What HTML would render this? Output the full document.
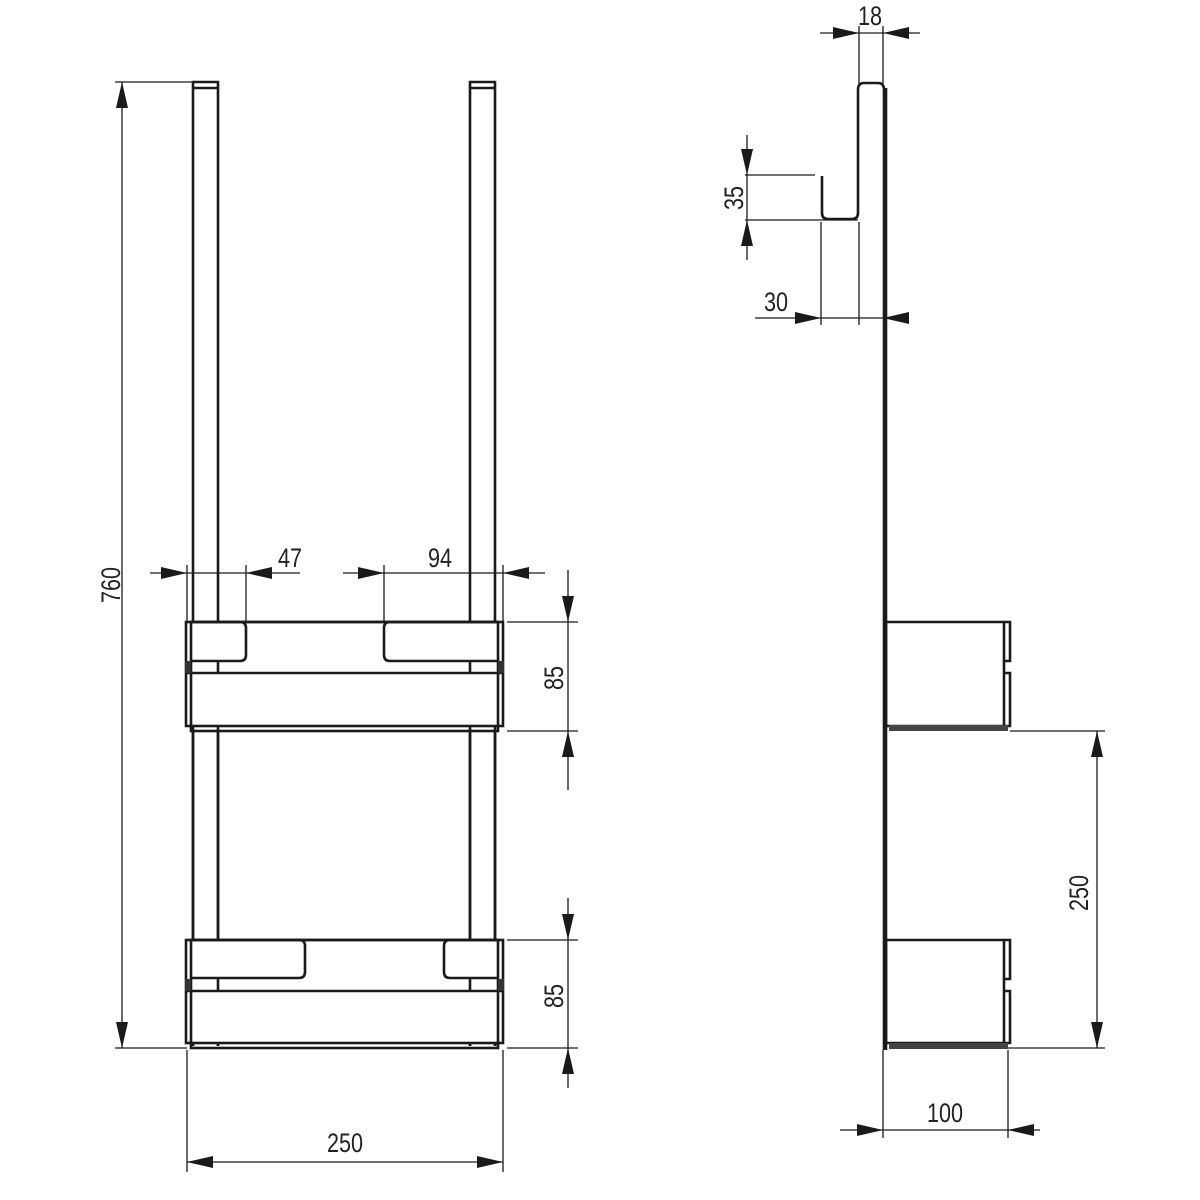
<!DOCTYPE html>
<html><head><meta charset="utf-8"><style>
html,body{margin:0;padding:0;background:#fff}
svg{display:block}
text{font-family:"Liberation Sans",sans-serif;font-size:27px;fill:#222}
</style></head><body>
<svg width="1200" height="1200" viewBox="0 0 1200 1200" xmlns="http://www.w3.org/2000/svg">
<defs>
<marker id="a" markerUnits="userSpaceOnUse" markerWidth="30" markerHeight="14" refX="26" refY="6" orient="auto">
<path d="M0,0 L26,6 L0,12 z" fill="#1a1a1a"/></marker>
</defs>
<g stroke="#1a1a1a" fill="none" stroke-width="1.3">
<!-- left view: dimension lines -->
<line x1="115" y1="82" x2="195" y2="82"/>
<line x1="115" y1="1048" x2="187" y2="1048"/>
<line x1="122" y1="565" x2="122" y2="82" marker-end="url(#a)"/>
<line x1="122" y1="565" x2="122" y2="1048" marker-end="url(#a)"/>
<!-- 47 -->
<line x1="187" y1="565" x2="187" y2="622"/><line x1="246" y1="565" x2="246" y2="622"/>
<line x1="150" y1="573" x2="187" y2="573" marker-end="url(#a)"/>
<line x1="300" y1="573" x2="246" y2="573" marker-end="url(#a)"/>
<line x1="187" y1="573" x2="246" y2="573"/>
<!-- 94 -->
<line x1="384" y1="565" x2="384" y2="622"/><line x1="503" y1="565" x2="503" y2="622"/>
<line x1="343" y1="573" x2="384" y2="573" marker-end="url(#a)"/>
<line x1="545" y1="573" x2="503" y2="573" marker-end="url(#a)"/>
<line x1="384" y1="573" x2="503" y2="573"/>
<!-- 85 upper -->
<line x1="507" y1="622" x2="578" y2="622"/><line x1="507" y1="731" x2="578" y2="731"/>
<line x1="568" y1="570" x2="568" y2="622" marker-end="url(#a)"/>
<line x1="568" y1="790" x2="568" y2="731" marker-end="url(#a)"/>
<line x1="568" y1="622" x2="568" y2="731"/>
<!-- 85 lower -->
<line x1="507" y1="940" x2="578" y2="940"/><line x1="507" y1="1048" x2="578" y2="1048"/>
<line x1="568" y1="898" x2="568" y2="940" marker-end="url(#a)"/>
<line x1="568" y1="1088" x2="568" y2="1048" marker-end="url(#a)"/>
<line x1="568" y1="940" x2="568" y2="1048"/>
<!-- 250 bottom -->
<line x1="187" y1="1050" x2="187" y2="1172"/><line x1="503" y1="1050" x2="503" y2="1172"/>
<line x1="345" y1="1162" x2="187" y2="1162" marker-end="url(#a)"/>
<line x1="345" y1="1162" x2="503" y2="1162" marker-end="url(#a)"/>
</g>
<g stroke="#1a1a1a" fill="none" stroke-width="2.6">
<!-- bars -->
<path d="M193,1046 V82 H218 V1046"/><line x1="193" y1="88" x2="218" y2="88"/>
<path d="M470,1046 V82 H495 V1046"/><line x1="470" y1="88" x2="495" y2="88"/>
<!-- upper basket -->
<rect x="186" y="622" width="317" height="104" fill="#fff"/>
<rect x="191" y="622" width="307" height="109"/>
<line x1="186" y1="673" x2="503" y2="673"/>
<path d="M191,622 H240 Q246,622 246,628 V655 Q246,661 240,661 H191"/>
<path d="M498,622 H390 Q384,622 384,628 V655 Q384,661 390,661 H498"/>
<line x1="193" y1="731" x2="193" y2="1046"/><line x1="218" y1="661" x2="218" y2="673"/><line x1="218" y1="731" x2="218" y2="1046"/>
<line x1="470" y1="661" x2="470" y2="673"/><line x1="470" y1="731" x2="470" y2="1046"/><line x1="495" y1="731" x2="495" y2="1046"/>
<!-- lower basket -->
<rect x="186" y="940" width="317" height="103" fill="#fff"/>
<rect x="191" y="940" width="307" height="108"/>
<line x1="186" y1="991" x2="503" y2="991"/>
<path d="M191,940 H299 Q305,940 305,946 V972 Q305,978 299,978 H191"/>
<path d="M498,940 H450 Q444,940 444,946 V972 Q444,978 450,978 H498"/>
<line x1="218" y1="978" x2="218" y2="991"/><line x1="470" y1="978" x2="470" y2="991"/>
</g>
<g fill="#333"><rect x="185" y="661" width="6" height="12"/><rect x="498" y="661" width="6" height="12"/>
<rect x="185" y="979" width="6" height="12"/><rect x="498" y="979" width="6" height="12"/></g>

<!-- right view dims -->
<g stroke="#1a1a1a" fill="none" stroke-width="1.3">
<line x1="859" y1="26" x2="859" y2="84"/><line x1="883" y1="26" x2="883" y2="84"/>
<line x1="820" y1="33" x2="859" y2="33" marker-end="url(#a)"/>
<line x1="920" y1="33" x2="883" y2="33" marker-end="url(#a)"/>
<line x1="859" y1="33" x2="883" y2="33"/>
<line x1="745" y1="175" x2="815" y2="175"/><line x1="745" y1="220" x2="858" y2="220"/>
<line x1="747" y1="135" x2="747" y2="175" marker-end="url(#a)"/>
<line x1="747" y1="260" x2="747" y2="220" marker-end="url(#a)"/>
<line x1="747" y1="175" x2="747" y2="220"/>
<line x1="821" y1="222" x2="821" y2="325"/><line x1="859" y1="222" x2="859" y2="325"/>
<line x1="755" y1="318" x2="821" y2="318" marker-end="url(#a)"/>
<line x1="900" y1="318" x2="883" y2="318" marker-end="url(#a)"/>
<line x1="821" y1="318" x2="883" y2="318"/>
<line x1="1010" y1="731" x2="1105" y2="731"/><line x1="1008" y1="1048" x2="1105" y2="1048"/>
<line x1="1097" y1="890" x2="1097" y2="731" marker-end="url(#a)"/>
<line x1="1097" y1="890" x2="1097" y2="1048" marker-end="url(#a)"/>
<line x1="883" y1="1050" x2="883" y2="1138"/><line x1="1008" y1="1050" x2="1008" y2="1138"/>
<line x1="840" y1="1130" x2="883" y2="1130" marker-end="url(#a)"/>
<line x1="1040" y1="1130" x2="1008" y2="1130" marker-end="url(#a)"/>
<line x1="883" y1="1130" x2="1008" y2="1130"/>
</g>
<g stroke="#1a1a1a" fill="none" stroke-width="2.6">
<!-- hook + plate -->
<path d="M884,1050 V90 Q884,83 878,83 H864 Q858,83 858,90 V213 Q858,219 852,219 H828 Q822,219 822,213 V176"/>
<line x1="886" y1="88" x2="886" y2="1050"/>
<!-- upper shelf side -->
<path d="M886,622 H1004 V726"/><path d="M886,622 V726 H1004"/>
<path d="M1004,622 H1010 V661 H1004 M1004,673 H1010 V726 H1004"/>
<!-- lower shelf side -->
<path d="M886,940 H1004 V1043"/><path d="M886,940 V1043 H1004"/>
<path d="M1004,940 H1010 V979 H1004 M1004,991 H1010 V1043 H1004"/>
</g>
<g fill="#444"><rect x="889" y="725" width="119" height="6"/><rect x="889" y="1043" width="119" height="6"/></g>

<!-- labels -->
<g>
<text transform="translate(120,585) rotate(-90) scale(0.8,1)" text-anchor="middle">760</text>
<text transform="translate(290,567) scale(0.8,1)" text-anchor="middle">47</text>
<text transform="translate(440,567) scale(0.8,1)" text-anchor="middle">94</text>
<text transform="translate(563,678) rotate(-90) scale(0.8,1)" text-anchor="middle">85</text>
<text transform="translate(563,996) rotate(-90) scale(0.8,1)" text-anchor="middle">85</text>
<text transform="translate(345,1152) scale(0.8,1)" text-anchor="middle">250</text>
<text transform="translate(870,25) scale(0.8,1)" text-anchor="middle">18</text>
<text transform="translate(743,198) rotate(-90) scale(0.8,1)" text-anchor="middle">35</text>
<text transform="translate(776,311) scale(0.8,1)" text-anchor="middle">30</text>
<text transform="translate(1088,893) rotate(-90) scale(0.8,1)" text-anchor="middle">250</text>
<text transform="translate(945,1122) scale(0.8,1)" text-anchor="middle">100</text>
</g>
</svg>
</body></html>
